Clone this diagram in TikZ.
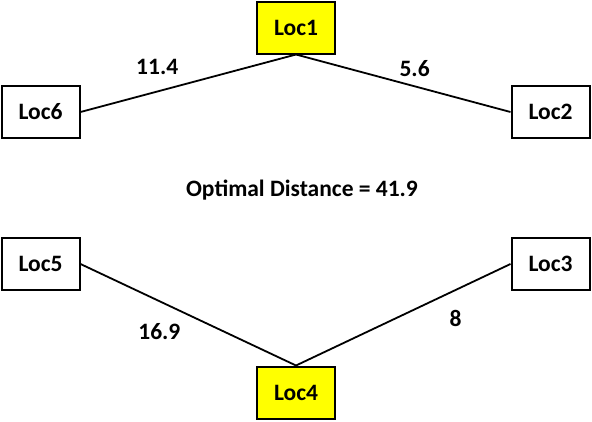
\documentclass[tikz,border=0pt]{standalone}
\usepackage{fontspec}
\setmainfont{Carlito}
\usepackage{xcolor}
\usepackage{tikz}
\usetikzlibrary{positioning}
\definecolor{depotyellow}{RGB}{255,255,0}

\begin{document}
\begin{tikzpicture}[
    x=1pt, y=-1pt,
    loc/.style={draw, line width=2pt, fill=white, minimum width=78pt, minimum height=52pt, inner sep=0pt, font=\fontsize{23.5}{28}\selectfont\bfseries},
    depot/.style={loc, fill=depotyellow},
    route/.style={line width=1.8pt},
    dist/.style={font=\fontsize{23.5}{28}\selectfont\bfseries, inner sep=0pt}
]
    \useasboundingbox (0,0) rectangle (592,421);

    % Locations
    \node[depot] (loc1) at (296,27.5) {Loc1};
    \node[loc] (loc6) at (40.5,112) {Loc6};
    \node[loc] (loc2) at (550.5,112) {Loc2};
    \node[loc] (loc5) at (40.5,264) {Loc5};
    \node[loc] (loc3) at (550.5,264) {Loc3};
    \node[depot] (loc4) at (296,392.5) {Loc4};

    % Result
    \node[dist] (total) at (302,190) {Optimal Distance = 41.9};

    % Routes
    \draw[route] (loc6.east) -- node[dist, pos=0.356, yshift=24.7pt] (d61) {11.4} (loc1.south);
    \draw[route] (loc1.south) -- node[dist, pos=0.553, yshift=17.5pt] (d12) {5.6} (loc2.west);
    \draw[route] (loc5.east) -- node[dist, pos=0.366, yshift=-30pt] (d54) {16.9} (loc4.north);
    \draw[route] (loc3.west) -- node[dist, pos=0.256, yshift=-28pt] (d34) {8} (loc4.north);
\end{tikzpicture}
\end{document}
